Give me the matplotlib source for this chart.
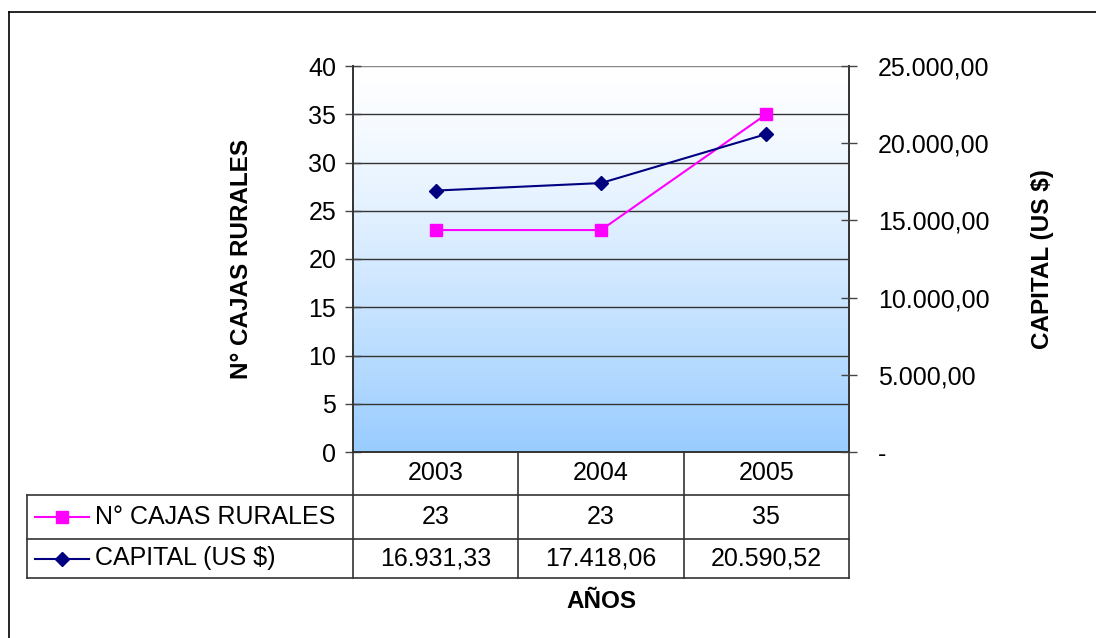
import matplotlib
matplotlib.use('Agg')
import matplotlib.pyplot as plt
import numpy as np
from matplotlib.lines import Line2D

plt.rcParams['font.family'] = ['Liberation Sans', 'DejaVu Sans']

years   = ['2003', '2004', '2005']
cajas   = [23, 23, 35]
capital = [16931.33, 17418.06, 20590.52]

cajas_name   = 'N° CAJAS RURALES'
capital_name = 'CAPITAL (US $)'

PINK = '#FF00FF'
NAVY = '#000080'
FS   = 18

def fmt_es(v):
    # 16931.33 -> 16.931,33 ; zero shown as a dash
    if v == 0:
        return '-'
    s = f'{v:,.2f}'
    return s.replace(',', 'X').replace('.', ',').replace('X', '.')

W, H = 1096, 638
fig = plt.figure(figsize=(W / 100, H / 100), dpi=100)

def px(x, y):
    return x / W, 1 - y / H

# outer chart border (only left and top fall inside the image)
fig.add_artist(Line2D([9 / W, 9 / W], [0, 1 - 12 / H], color='black', lw=1.2))
fig.add_artist(Line2D([9 / W, 1], [1 - 12 / H, 1 - 12 / H], color='black', lw=1.2))

left, right, top, bot = 353, 849, 66, 452
ax = fig.add_axes([left / W, 1 - bot / H, (right - left) / W, (bot - top) / H])
x = np.arange(len(years))
ax.set_xlim(-0.5, len(years) - 0.5)
ax.set_ylim(0, 40)
ax.set_yticks(np.arange(0, 41, 5))
ax.set_xticks([])

# gradient background white -> light blue, staying pale near the top
grad = np.linspace(0, 1, 256).reshape(-1, 1) ** 1.3
top_c = np.array([1.0, 1.0, 1.0])
bot_c = np.array([153, 204, 255]) / 255
img = top_c * (1 - grad[..., None]) + bot_c * grad[..., None]
ax.imshow(img, aspect='auto', extent=[-0.5, len(years) - 0.5, 0, 40],
          origin='upper', zorder=0, interpolation='bilinear')

for yv in np.arange(5, 41, 5):
    ax.axhline(yv, color='#333333' if yv < 40 else '#888888', lw=1.0, zorder=1)

ax.spines['top'].set_visible(False)
for s in ['left', 'right', 'bottom']:
    ax.spines[s].set_linewidth(1.4)
    ax.spines[s].set_color('#333333')

ax.tick_params(axis='y', direction='inout', length=12, width=1.0, color='#444444',
               labelsize=FS, pad=6)
ax.set_ylabel(cajas_name, fontsize=17.5, fontweight='bold', labelpad=40)

ax2 = ax.twinx()
ax2.set_ylim(0, 25000)
ax2.set_yticks(np.arange(0, 25001, 5000))
ax2.set_yticklabels([fmt_es(v) for v in np.arange(0, 25001, 5000)])
ax2.tick_params(axis='y', direction='inout', length=12, width=1.0, color='#444444',
                labelsize=FS, pad=15)
for s in ax2.spines.values():
    s.set_visible(False)
ax2.set_ylabel(capital_name, fontsize=17.5, fontweight='bold', labelpad=30)

ax.plot(x, cajas, color=PINK, lw=1.5, marker='s', ms=8, zorder=3, clip_on=False)
ax2.plot(x, capital, color=NAVY, lw=1.5, marker='D', ms=7, zorder=3, clip_on=False)

# data table below the plot
def ay(ypix):
    return (bot - ypix) / (bot - top)

def ax_x(xpix):
    return (xpix - left) / (right - left)

rows = [bot, 495, 539, 578]
tab_left = 27
lc = dict(color='#333333', lw=1.2, clip_on=False)
trans = ax.get_xaxis_transform()

for r in rows[1:]:
    ax.add_artist(Line2D([ax_x(tab_left), 1], [ay(r), ay(r)], transform=ax.transAxes, **lc))
ax.add_artist(Line2D([ax_x(tab_left), ax_x(tab_left)], [ay(rows[1]), ay(rows[3])],
                     transform=ax.transAxes, **lc))
for b in np.arange(-0.5, len(years), 1.0):
    ax.add_artist(Line2D([b, b], [0, ay(rows[3])], transform=trans, **lc))

def mid(i):
    return ay((rows[i] + rows[i + 1]) / 2)

for i, yr in enumerate(years):
    ax.text(i, mid(0), yr, transform=trans, ha='center', va='center', fontsize=FS)
    ax.text(i, mid(1), str(cajas[i]), transform=trans, ha='center', va='center', fontsize=FS)
    ax.text(i, mid(2), fmt_es(capital[i]), transform=trans, ha='center', va='center', fontsize=FS)

# legend keys inside the row headers
for k, (name, col, mk, ms) in enumerate([(cajas_name, PINK, 's', 8), (capital_name, NAVY, 'D', 7)]):
    yk = mid(k + 1)
    ax.add_artist(Line2D([ax_x(35), ax_x(89)], [yk, yk], transform=ax.transAxes,
                         color=col, lw=1.5, clip_on=False))
    ax.add_artist(Line2D([ax_x(62)], [yk], transform=ax.transAxes, color=col,
                         marker=mk, ms=ms, clip_on=False))
    ax.text(ax_x(95), yk, name, transform=ax.transAxes, ha='left', va='center', fontsize=FS)

fig.text(*px(601, 601), 'AÑOS', ha='center', va='center', fontsize=17.5, fontweight='bold')

fig.savefig('out.png', dpi=100)
